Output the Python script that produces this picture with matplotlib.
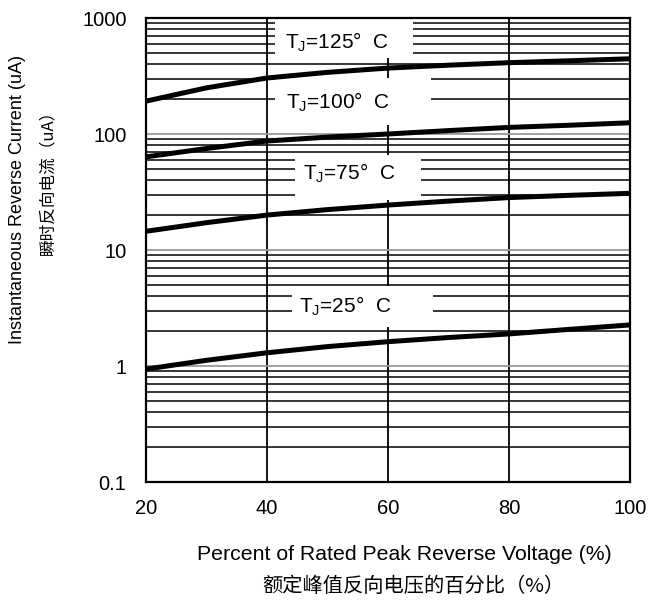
import numpy as np
import matplotlib.pyplot as plt
from matplotlib.patches import Rectangle
from matplotlib.ticker import LogLocator, NullFormatter, FixedLocator

plt.rcParams['font.family'] = ['Liberation Sans', 'Noto Sans CJK SC', 'DejaVu Sans']
plt.rcParams['mathtext.fontset'] = 'custom'
plt.rcParams['mathtext.rm'] = 'Liberation Sans'

# percent of rated peak reverse voltage
voltage_pct = [20, 30, 40, 50, 60, 70, 80, 90, 100]

# reverse current (uA) per junction temperature
current_125 = [192, 250, 304, 340, 370, 392, 412, 428, 445]
current_100 = [63.5, 75, 87, 94, 100, 107, 114, 119, 125]
current_75 = [14.5, 17.2, 20.0, 22.3, 24.4, 26.4, 28.3, 29.6, 30.8]
current_25 = [0.94, 1.12, 1.30, 1.47, 1.62, 1.76, 1.89, 2.07, 2.26]

series = [current_125, current_100, current_75, current_25]
labels = ["125", "100", "75", "25"]

# white label boxes: (x0, x1, y0, y1) and text centre (x, y), in data units
label_boxes = [(41.4, 64.2, 455, 1000), (41.4, 67.1, 119, 304),
               (44.7, 65.5, 27, 66), (44.2, 67.5, 2.15, 4.9)]
label_pos = [(51.5, 621), (51.8, 187), (53.6, 45.4), (53.0, 3.26)]

x_ticks = [20, 40, 60, 80, 100]
y_ticks = [0.1, 1, 10, 100, 1000]
y_ticklabels = ["0.1", "1", "10", "100", "1000"]

fig = plt.figure(figsize=(6.48, 6.0), dpi=100)
ax = fig.add_axes([146 / 648, 118 / 600, 484 / 648, 464 / 600])

ax.set_yscale('log')
ax.set_xlim(20, 100)
ax.set_ylim(0.1, 1000)

ax.xaxis.set_major_locator(FixedLocator(x_ticks))
ax.set_xticklabels([str(v) for v in x_ticks])
ax.yaxis.set_major_locator(FixedLocator(y_ticks))
ax.set_yticklabels(y_ticklabels)
ax.yaxis.set_minor_locator(LogLocator(base=10, subs=np.arange(2, 10)))
ax.yaxis.set_minor_formatter(NullFormatter())

ax.tick_params(axis='both', which='both', length=0, labelsize=14.5)
ax.tick_params(axis='x', pad=12)
ax.tick_params(axis='y', pad=14)

ax.set_axisbelow(True)
ax.grid(True, axis='x', which='major', color='black', lw=1.3)
ax.grid(True, axis='y', which='major', color='#999999', lw=1.3)
ax.grid(True, axis='y', which='minor', color='black', lw=1.1)

for s in ax.spines.values():
    s.set_linewidth(1.6)
    s.set_zorder(5)

for vals in series:
    ax.plot(voltage_pct, vals, color='black', lw=3.6, solid_capstyle='round', zorder=3)

for (x0, x1, y0, y1), (tx, ty), lab in zip(label_boxes, label_pos, labels):
    ax.add_patch(Rectangle((x0, y0), x1 - x0, y1 - y0, facecolor='white',
                           edgecolor='none', zorder=2))
    ax.text(tx, ty, r"T$\mathregular{_J}$=" + lab + "°  C", ha='center', va='center',
            fontsize=15, zorder=4)

fig.text(18 / 648, 1 - 200 / 600, "Instantaneous Reverse Current (uA)", rotation=90,
         ha='center', va='center', fontsize=13)
fig.text(48 / 648, 1 - 178 / 600, "瞬时反向电流（uA）", rotation=90,
         ha='center', va='center', fontsize=12, family=['Noto Sans CJK SC', 'DejaVu Sans'])
fig.text(404 / 648, 1 - 555 / 600, "Percent of Rated Peak Reverse Voltage (%)",
         ha='center', va='center', fontsize=15.3)
fig.text(413 / 648, 1 - 586 / 600, "额定峰值反向电压的百分比（%）",
         ha='center', va='center', fontsize=14.6, family=['Noto Sans CJK SC', 'DejaVu Sans'])

fig.savefig("out.png", dpi=100)
